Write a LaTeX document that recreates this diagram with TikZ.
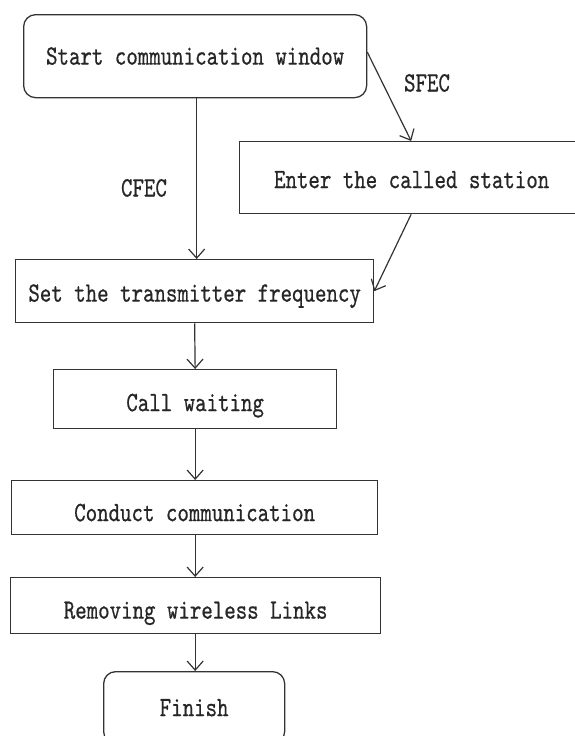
\documentclass[tikz,border=0pt]{standalone}
\usepackage{fontspec}
\newfontfamily\diagfont{lmmono10-regular.otf}[FakeStretch=0.78,FakeBold=0.6]
\usetikzlibrary{arrows.meta}
\begin{document}
\begin{tikzpicture}[x=1pt,y=-1pt,
  box/.style={draw=black!80, line width=1.3pt, inner sep=0pt, anchor=north west, text=black!85,
    font=\diagfont\fontsize{28}{30}\selectfont, text depth=0pt, text height=17pt},
  tshift/.style={text height=17pt+2*#1},
  rbox/.style={box, rounded corners=12pt},
  lbl/.style={text=black!85, font=\diagfont\fontsize{28}{30}\selectfont, inner sep=0pt,
    text depth=0pt, text height=17pt},
  arr/.style={draw=black!80, line width=1.2pt, -{Straight Barb[length=9pt,width=16pt,line width=1.2pt]}}
]
\useasboundingbox (0,0) rectangle (574,736);
\node[rbox, minimum width=343pt, minimum height=83pt] (start) at (23,14) {Start communication window};
\node[box, tshift=2pt, minimum width=340pt, minimum height=72pt] (enter) at (239,141) {\hspace*{4pt}Enter the called station};
\node[box, tshift=2pt, minimum width=358pt, minimum height=63pt] (set) at (15,259) {Set the transmitter frequency};
\node[box, tshift=3.5pt, minimum width=283pt, minimum height=59pt] (wait) at (53,369) {Call waiting};
\node[box, tshift=5pt, minimum width=366pt, minimum height=54pt] (conduct) at (11,480) {Conduct communication};
\node[box, tshift=4.5pt, minimum width=370pt, minimum height=56pt] (remove) at (10,577) {Removing wireless Links};
\node[rbox, minimum width=181pt, minimum height=72pt] (finish) at (103,671) {Finish};

\node[lbl] (cfec) at (144,188) {CFEC};
\node[lbl] (sfec) at (427,83) {SFEC};

\coordinate (cs) at ([xshift=1.5pt]start.south);
\draw[arr] (cs) -- (cs |- set.north);
\draw[arr] ([yshift=4pt]start.east) -- ([xshift=1.5pt]enter.north);
\draw[arr] ([xshift=1.5pt]enter.south) -- (set.east);
\draw[arr] (set.south) -- (wait.north);
\draw[arr] (wait.south) -- (wait.south |- conduct.north);
\draw[arr] (wait.south |- conduct.south) -- (wait.south |- remove.north);
\draw[arr] (wait.south |- remove.south) -- (wait.south |- finish.north);
\end{tikzpicture}
\end{document}
